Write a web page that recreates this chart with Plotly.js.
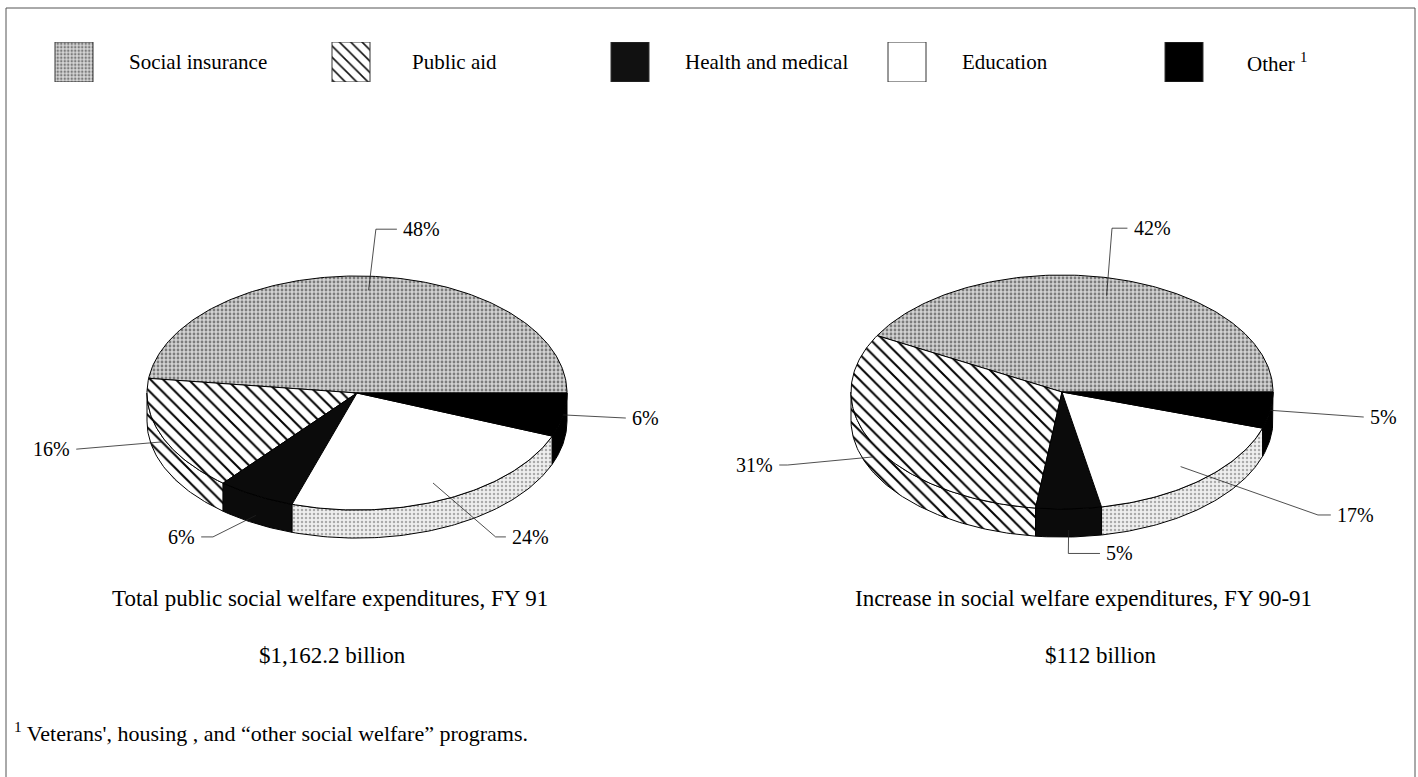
<!DOCTYPE html>
<html>
<head>
<meta charset="utf-8">
<script src="https://cdn.plot.ly/plotly-3.0.1.min.js"></script>
<style>html,body{margin:0;padding:0;background:#fff;}#chart{width:1418px;height:777px;}</style>
</head>
<body>
<div id="chart"></div>
<script>
// ---------- DATA ----------
const categories = ['Social insurance', 'Public aid', 'Health and medical', 'Education', 'Other'];
const legendLabels = ['Social insurance', 'Public aid', 'Health and medical', 'Education', 'Other <sup>1</sup>'];
const totalFY91 = [48, 16, 6, 24, 6];          // percent, FY 91
const increaseFY9091 = [42, 31, 5, 17, 5];     // percent, FY 90-91 increase
const pieTitles = ['Total public social welfare expenditures, FY 91', 'Increase in social welfare expenditures, FY 90-91'];
const pieTotals = ['$1,162.2 billion', '$112 billion'];
const footnoteText = "<sup>1</sup> Veterans', housing , and “other social welfare” programs.";

// ---------- STYLE ----------
const FONT = 'Liberation Serif, Times New Roman, serif';
const DEPTH = 0.24;   // side wall height (y units)
const siPattern = {shape: '.', bgcolor: '#d2d2d2', fgcolor: '#7c7c7c', size: 4, solidity: 0.38};
const paPattern = {shape: '\\', bgcolor: '#ffffff', fgcolor: '#000000', size: 9, solidity: 0.22};
const faceStyle = [
  {color: '#d2d2d2', pattern: siPattern},
  {color: '#ffffff', pattern: paPattern},
  {color: '#0b0b0b'},
  {color: '#ffffff'},
  {color: '#000000'}
];
const sideStyle = [
  {color: '#d2d2d2', pattern: siPattern},
  {color: '#ffffff', pattern: paPattern},
  {color: '#0b0b0b'},
  {color: '#ececec', pattern: {shape: '.', bgcolor: '#efefef', fgcolor: '#ababab', size: 4, solidity: 0.3}},
  {color: '#000000'}
];
const legendStyle = [
  {color: '#d2d2d2', pattern: {shape: '.', bgcolor: '#d6d6d6', fgcolor: '#7c7c7c', size: 3.5, solidity: 0.4}},
  {color: '#ffffff', pattern: {shape: '\\', bgcolor: '#ffffff', fgcolor: '#111111', size: 8, solidity: 0.2}},
  {color: '#111111'},
  {color: '#ffffff'},
  {color: '#000000'}
];
// label placement per pie (units of the pie's axes): anchor radius, anchor y shift, elbow, text pos, anchor side
const labelStyle = [
  [
    {r: 0.88, dy: 0,     elbow: [0.09, 1.40],    text: [0.21, 1.40],    side: 'left'},
    {r: 1.0,  dy: -0.05, elbow: [-1.30, -0.48],  text: [-1.357, -0.48], side: 'right'},
    {r: 1.0,  dy: -0.17, elbow: [-0.686, -1.23], text: [-0.762, -1.23], side: 'right'},
    {r: 0.85, dy: 0,     elbow: [0.66, -1.23],   text: [0.729, -1.23],  side: 'left'},
    {r: 1.0,  dy: 0,     elbow: [1.25, -0.214],  text: [1.30, -0.214],  side: 'left'}
  ],
  [
    {r: 0.85, dy: 0,     elbow: [0.237, 1.40],   text: [0.33, 1.40],    side: 'left'},
    {r: 1.0,  dy: -0.10, elbow: [-1.30, -0.624], text: [-1.36, -0.624], side: 'right'},
    {r: 1.0,  dy: -0.18, elbow: [0.03, -1.38],   text: [0.20, -1.38],   side: 'left'},
    {r: 0.85, dy: 0,     elbow: [1.213, -1.051], text: [1.294, -1.051], side: 'left'},
    {r: 1.0,  dy: 0,     elbow: [1.40, -0.214],  text: [1.450, -0.214], side: 'left'}
  ]
];
const legendBoxX = [55, 332, 611, 888, 1165];
const legendTextX = [127, 410, 683, 960, 1245];
const legendBoxW = 38;
const legendTop = 42, legendBottom = 82;
const titleX = [330, 1083];
const totalX = [332, 1100];

// ---------- BUILD ----------
const traces = [];
const annotations = [];
const rad = d => d * Math.PI / 180;

function fillTrace(xs, ys, st, xa, ya, lineColor) {
  const t = {
    type: 'scatter', mode: 'lines', x: xs, y: ys, xaxis: xa, yaxis: ya,
    fill: 'toself', fillcolor: st.color, line: {color: lineColor || '#000', width: 1},
    hoverinfo: 'skip', showlegend: false
  };
  if (st.pattern) t.fillpattern = Object.assign({fillmode: 'replace'}, st.pattern);
  return t;
}

function buildPie(values, xa, ya, labels) {
  const total = values.reduce((a, b) => a + b, 0);
  const slices = [];
  let start = 0; // degrees, counterclockwise from 3 o'clock
  values.forEach(v => { const end = start + v / total * 360; slices.push([start, end]); start = end; });
  const sides = [], faces = [];
  slices.forEach(([a0, a1], i) => {
    const s0 = Math.max(a0, 180), s1 = Math.min(a1, 360);
    if (s1 > s0) {
      const xs = [], ys = [];
      const n = Math.max(2, Math.ceil(s1 - s0));
      for (let k = 0; k <= n; k++) { const t = rad(s0 + (s1 - s0) * k / n); xs.push(Math.cos(t)); ys.push(Math.sin(t)); }
      for (let k = n; k >= 0; k--) { const t = rad(s0 + (s1 - s0) * k / n); xs.push(Math.cos(t)); ys.push(Math.sin(t) - DEPTH); }
      xs.push(xs[0]); ys.push(ys[0]);
      sides.push(fillTrace(xs, ys, sideStyle[i], xa, ya));
    }
    const xs = [0], ys = [0];
    const n = Math.max(2, Math.ceil(a1 - a0));
    for (let k = 0; k <= n; k++) { const t = rad(a0 + (a1 - a0) * k / n); xs.push(Math.cos(t)); ys.push(Math.sin(t)); }
    xs.push(0); ys.push(0);
    faces.push(fillTrace(xs, ys, faceStyle[i], xa, ya));
  });
  traces.push(...sides, ...faces);
  slices.forEach(([a0, a1], i) => {
    const ls = labels[i];
    const mid = rad((a0 + a1) / 2);
    const ax = ls.r * Math.cos(mid), ay = ls.r * Math.sin(mid) + ls.dy;
    traces.push({
      type: 'scatter', mode: 'lines', xaxis: xa, yaxis: ya,
      x: [ax, ls.elbow[0], ls.text[0] + (ls.side === 'left' ? -0.02 : 0.02)],
      y: [ay, ls.elbow[1], ls.text[1]],
      line: {color: '#222', width: 0.8}, hoverinfo: 'skip', showlegend: false
    });
    annotations.push({
      xref: xa, yref: ya, x: ls.text[0], y: ls.text[1],
      xanchor: ls.side, yanchor: 'middle', showarrow: false,
      text: values[i] + '%', font: {family: FONT, size: 20, color: '#000'}
    });
  });
}

buildPie(totalFY91, 'x', 'y', labelStyle[0]);
buildPie(increaseFY9091, 'x2', 'y2', labelStyle[1]);

// legend swatches (filled boxes on their own pixel-scaled axis)
categories.forEach((cat, i) => {
  const x0 = legendBoxX[i], x1 = legendBoxX[i] + legendBoxW;
  traces.push(fillTrace([x0, x1, x1, x0, x0], [0, 0, 1, 1, 0], legendStyle[i], 'x3', 'y3', '#333'));
  annotations.push({
    xref: 'x3', yref: 'y3', x: legendTextX[i], y: 0.5, xanchor: 'left', yanchor: 'middle',
    showarrow: false, text: legendLabels[i], font: {family: FONT, size: 21, color: '#000'}
  });
});

// titles under pies
pieTitles.forEach((t, i) => {
  annotations.push({xref: 'paper', yref: 'paper', x: titleX[i] / 1418, y: 1 - 598 / 777, xanchor: 'center', yanchor: 'middle',
    showarrow: false, text: t, font: {family: FONT, size: 23, color: '#000'}});
  annotations.push({xref: 'paper', yref: 'paper', x: totalX[i] / 1418, y: 1 - 655 / 777, xanchor: 'center', yanchor: 'middle',
    showarrow: false, text: pieTotals[i], font: {family: FONT, size: 23, color: '#000'}});
});
annotations.push({xref: 'paper', yref: 'paper', x: 12 / 1418, y: 1 - 732 / 777, xanchor: 'left', yanchor: 'middle',
  showarrow: false, text: footnoteText, font: {family: FONT, size: 22, color: '#000'}});

const hidden = {showgrid: false, zeroline: false, showticklabels: false, ticks: '', showline: false, fixedrange: true};
const layout = {
  width: 1418, height: 777,
  margin: {l: 0, r: 0, t: 0, b: 0},
  paper_bgcolor: '#ffffff', plot_bgcolor: 'rgba(0,0,0,0)',
  showlegend: false,
  xaxis: Object.assign({domain: [0, 0.5], range: [-357 / 210, (709 - 357) / 210], anchor: 'y'}, hidden),
  yaxis: Object.assign({domain: [0, 1], range: [-384 / 117, 393 / 117], anchor: 'x'}, hidden),
  xaxis2: Object.assign({domain: [0.5, 1], range: [-353 / 211, (709 - 353) / 211], anchor: 'y2'}, hidden),
  yaxis2: Object.assign({domain: [0, 1], range: [-385 / 117, 392 / 117], anchor: 'x2'}, hidden),
  xaxis3: Object.assign({domain: [0, 1], range: [0, 1418], anchor: 'y3'}, hidden),
  yaxis3: Object.assign({domain: [1 - legendBottom / 777, 1 - legendTop / 777], range: [0, 1], anchor: 'x3'}, hidden),
  annotations: annotations,
  shapes: [{type: 'rect', xref: 'paper', yref: 'paper', x0: 6 / 1418, x1: 1415 / 1418, y0: -0.02, y1: 1 - 8 / 777,
    line: {color: '#555', width: 1}, fillcolor: 'rgba(0,0,0,0)'}]
};

Plotly.newPlot('chart', traces, layout, {displayModeBar: false, staticPlot: true});
</script>
</body>
</html>
